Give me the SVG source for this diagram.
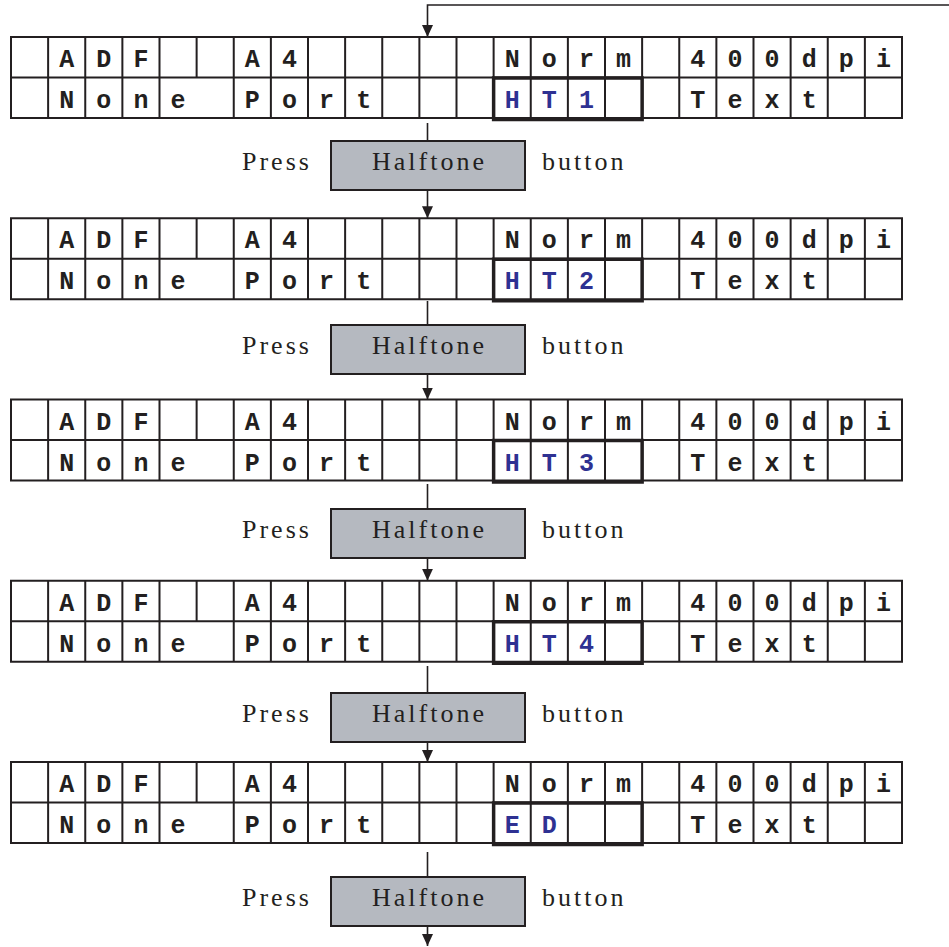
<svg xmlns="http://www.w3.org/2000/svg" xmlns:xlink="http://www.w3.org/1999/xlink" width="949" height="947" viewBox="0 0 949 947">
<style>
.grid{fill:none;stroke:#231f20;stroke-width:2}
.ch{font-family:"Liberation Mono","Courier New",monospace;font-weight:bold;font-size:25px;fill:#231f20;text-anchor:middle}
.bl{fill:#2e3192}
.hl{fill:none;stroke:#231f20;stroke-width:3.5}
.btn{fill:#b5b9c0;stroke:#231f20;stroke-width:2}
.lbl{font-family:"Liberation Serif","Times New Roman",serif;font-size:26px;letter-spacing:3px;fill:#231f20}
.con{fill:none;stroke:#231f20;stroke-width:1.6}
</style>
<defs>
<marker id="arr" markerUnits="userSpaceOnUse" viewBox="0 0 12 11" refX="12" refY="5.5" markerWidth="12" markerHeight="11" orient="auto">
<path d="M0,0 L12,5.5 L0,11 z" fill="#231f20"/>
</marker>
<g id="lcd">
<rect class="grid" x="11" y="0" width="891" height="81"/>
<path class="grid" d="M11,40.5H902
M48.125,0V81 M85.25,0V81 M122.375,0V81 M159.5,0V81 M196.625,0V40.5 M233.75,0V81 M270.875,0V81 M308,0V81 M345.125,0V81 M382.25,0V81 M419.375,0V81 M456.5,0V81 M493.625,0V81 M530.75,0V81 M567.875,0V81 M605,0V81 M642.125,0V81 M679.25,0V81 M716.375,0V81 M753.5,0V81 M790.625,0V81 M827.75,0V81 M864.875,0V81"/>
<text class="ch" x="66.69 103.81 140.94" y="30">ADF</text>
<text class="ch" x="252.31 289.44" y="30">A4</text>
<text class="ch" x="512.19 549.31 586.44 623.56" y="30">Norm</text>
<text class="ch" x="697.81 734.94 772.06 809.19 846.31 883.44" y="30">400dpi</text>
<text class="ch" x="66.69 103.81 140.94 178.06" y="71">None</text>
<text class="ch" x="252.31 289.44 326.56 363.69" y="71">Port</text>
<text class="ch" x="697.81 734.94 772.06 809.19" y="71">Text</text>
<rect class="hl" x="493.625" y="41" width="148.5" height="41.5"/>
</g>
</defs>

<g id="screen1" transform="translate(0,37)">
<use xlink:href="#lcd"/>
<text class="ch bl" x="512.19 549.31 586.44" y="71">HT1</text>
</g>
<g id="screen2" transform="translate(0,218.25)">
<use xlink:href="#lcd"/>
<text class="ch bl" x="512.19 549.31 586.44" y="71">HT2</text>
</g>
<g id="screen3" transform="translate(0,399.5)">
<use xlink:href="#lcd"/>
<text class="ch bl" x="512.19 549.31 586.44" y="71">HT3</text>
</g>
<g id="screen4" transform="translate(0,580.75)">
<use xlink:href="#lcd"/>
<text class="ch bl" x="512.19 549.31 586.44" y="71">HT4</text>
</g>
<g id="screen5" transform="translate(0,762)">
<use xlink:href="#lcd"/>
<text class="ch bl" x="512.19 549.31" y="71">ED</text>
</g>

<g id="connectors">
<path class="con" d="M949,5H427.5V37" marker-end="url(#arr)"/>
<path class="con" d="M427.5,123V141"/>
<path class="con" d="M427.5,190V218.25" marker-end="url(#arr)"/>
<path class="con" d="M427.5,301V325"/>
<path class="con" d="M427.5,374V399.5" marker-end="url(#arr)"/>
<path class="con" d="M427.5,484V509"/>
<path class="con" d="M427.5,558V580.75" marker-end="url(#arr)"/>
<path class="con" d="M427.5,666V693"/>
<path class="con" d="M427.5,742V762" marker-end="url(#arr)"/>
<path class="con" d="M427.5,852V877"/>
<path class="con" d="M427.5,926V946" marker-end="url(#arr)"/>
</g>

<g id="button1">
<text class="lbl" x="242" y="169.5">Press</text>
<rect class="btn" x="331" y="141" width="194" height="49"/>
<text class="lbl" x="429.5" y="169.5" text-anchor="middle">Halftone</text>
<text class="lbl" x="542" y="169.5">button</text>
</g>
<g id="button2">
<text class="lbl" x="242" y="353.5">Press</text>
<rect class="btn" x="331" y="325" width="194" height="49"/>
<text class="lbl" x="429.5" y="353.5" text-anchor="middle">Halftone</text>
<text class="lbl" x="542" y="353.5">button</text>
</g>
<g id="button3">
<text class="lbl" x="242" y="537.5">Press</text>
<rect class="btn" x="331" y="509" width="194" height="49"/>
<text class="lbl" x="429.5" y="537.5" text-anchor="middle">Halftone</text>
<text class="lbl" x="542" y="537.5">button</text>
</g>
<g id="button4">
<text class="lbl" x="242" y="721.5">Press</text>
<rect class="btn" x="331" y="693" width="194" height="49"/>
<text class="lbl" x="429.5" y="721.5" text-anchor="middle">Halftone</text>
<text class="lbl" x="542" y="721.5">button</text>
</g>
<g id="button5">
<text class="lbl" x="242" y="905.5">Press</text>
<rect class="btn" x="331" y="877" width="194" height="49"/>
<text class="lbl" x="429.5" y="905.5" text-anchor="middle">Halftone</text>
<text class="lbl" x="542" y="905.5">button</text>
</g>
</svg>
